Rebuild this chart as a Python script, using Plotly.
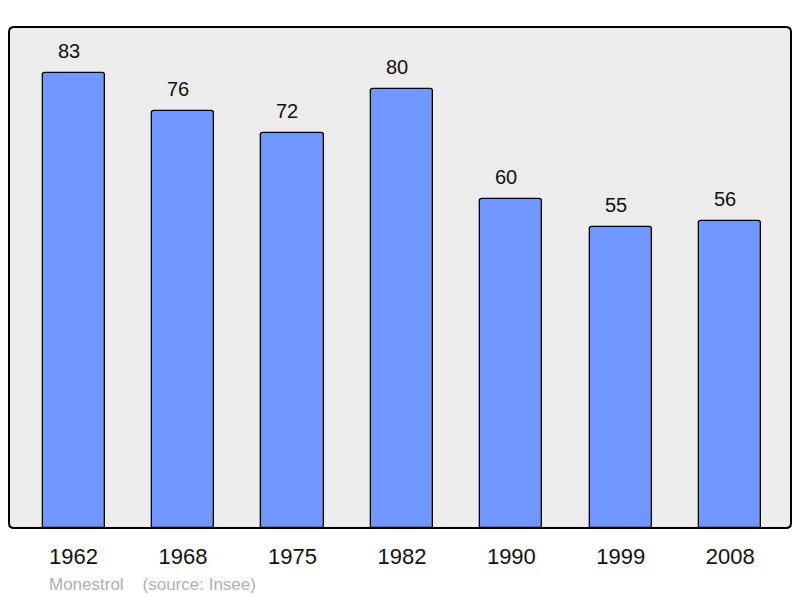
import plotly.graph_objects as go

years = ["1962", "1968", "1975", "1982", "1990", "1999", "2008"]
population = [83, 76, 72, 80, 60, 55, 56]
commune = "Monestrol"
source_note = "(source: Insee)"

# page body has an 8px margin; compensate so the plot lands where the reference is
OFF = 8
W, H = 800 - OFF, 598 - OFF
ml, mr, mt, mb = 9 - OFF, 9, 27 - OFF, 70
pw, ph = W - ml - mr, H - mt - mb
FONT = "Liberation Sans, Arial, sans-serif"

fig = go.Figure()
fig.add_trace(go.Bar(
    x=list(range(len(years))), y=population,
    width=0.567,
    marker=dict(color="#7096ff", line=dict(color="#000000", width=1.3), cornerradius=3),
    hoverinfo="skip",
))

for i, v in enumerate(population):
    fig.add_annotation(x=i, y=v, text=str(v), showarrow=False, yanchor="bottom",
                       yshift=9, xshift=-5, font=dict(size=20, color="#111111", family=FONT))

# rounded plot frame
rx, ry = 5 / pw, 5 / ph
path = (f"M {rx},0 L {1-rx},0 Q 1,0 1,{ry} L 1,{1-ry} Q 1,1 {1-rx},1 "
        f"L {rx},1 Q 0,1 0,{1-ry} L 0,{ry} Q 0,0 {rx},0 Z")
fig.add_shape(type="path", path=path, xref="paper", yref="paper",
              line=dict(color="#000000", width=2), layer="above")

fig.add_annotation(xref="paper", yref="paper", x=(47 - 9) / pw, y=-(584 - 528) / ph,
                   xanchor="left", yanchor="middle", showarrow=False,
                   text=f"{commune}&nbsp;&nbsp;&nbsp;&nbsp;{source_note}",
                   font=dict(size=17, color="#b0b0b0", family=FONT))

fig.update_layout(
    width=W, height=H,
    margin=dict(l=ml, r=mr, t=mt, b=mb),
    paper_bgcolor="#ffffff", plot_bgcolor="#ececec",
    showlegend=False, bargap=0,
    font=dict(family=FONT, color="#111111"),
)
fig.update_xaxes(range=[-0.59, 6.555], tickmode="array", tickvals=list(range(len(years))),
                 ticktext=years, tickfont=dict(size=22, color="#111111"),
                 showgrid=False, zeroline=False, ticks="outside", ticklen=9,
                 tickcolor="rgba(0,0,0,0)", showline=False, fixedrange=True)
fig.update_yaxes(range=[0, 91.4], showticklabels=False, showgrid=False, zeroline=False,
                 showline=False, fixedrange=True)

fig.write_html("out.html")
